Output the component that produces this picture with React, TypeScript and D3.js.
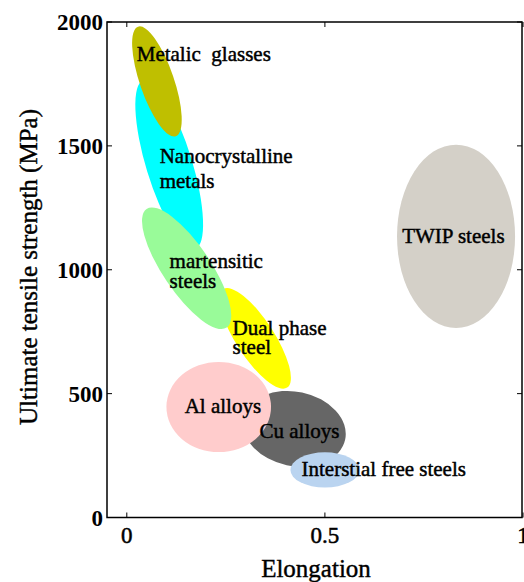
import React from "react";
import * as d3 from "d3";

const W = 524;
const H = 582;

// Material families: centre (elongation, MPa), semi-axes (elongation, MPa), tilt (deg)
const names = ["Nanocrystalline metals", "Metalic glasses", "Dual phase steel", "martensitic steels", "Cu alloys", "Al alloys", "Interstial free steels", "TWIP steels"];
const centerElong = [0.107, 0.076, 0.324, 0.151, 0.423, 0.232, 0.5, 0.831];
const centerUTS = [1424, 1760, 723, 1006, 358, 446, 192, 1135];
const halfElong = [0.058, 0.043, 0.048, 0.06, 0.131, 0.132, 0.087, 0.149];
const halfUTS = [356, 234, 237, 289, 150, 182, 71, 370];
const tilts = [-17, -19, -33, -34, 12, 0, 0, 0];
const colors = ["#00FFFF", "#BFBF00", "#FFFF00", "#99FB99", "#666666", "#FFCCCC", "#BAD4F0", "#D4D0C8"];

// Labels
const labelLines = [["Metalic  glasses"], ["Nanocrystalline", "metals"], ["martensitic", "steels"], ["Dual phase", "steel"], ["Al alloys"], ["Cu alloys"], ["Interstial free steels"], ["TWIP steels"]];
const labelElong = [0.025, 0.083, 0.108, 0.267, 0.146, 0.335, 0.441, 0.695];
const labelUTS = [1844, 1432, 1008, 737, 422, 321, 168, 1109];
const labelGap = [0, 25, 20, 19, 0, 0, 0, 0];

const xTicks = [0, 0.5, 1];
const xTickLabels = ["0", "0.5", "1"];
const yTicks = [0, 500, 1000, 1500, 2000];
const yTickLabels = ["0", "500", "1000", "1500", "2000"];

const FONT = "'Liberation Serif', 'Times New Roman', serif";

export default function App() {
  const left = 107, right = 522, top = 22, bottom = 517.5;
  const x = d3.scaleLinear().domain([-0.05, 1.0]).range([left, right + 1]);
  const y = d3.scaleLinear().domain([0, 2000]).range([bottom, top]);
  const tl = 5;
  const ts = { fontFamily: FONT, whiteSpace: "pre" as const };

  return (
    <svg width={W} height={H} style={{ position: "absolute", left: 0, top: 0, background: "#fff", fontFamily: FONT }}>
      <rect width={W} height={H} fill="#fff" />
      {names.map((n, i) => {
        const cx = x(centerElong[i]);
        const cy = y(centerUTS[i]);
        const rx = x(centerElong[i] + halfElong[i]) - cx;
        const ry = cy - y(centerUTS[i] + halfUTS[i]);
        return (
          <ellipse key={n} cx={cx} cy={cy} rx={rx} ry={ry} fill={colors[i]}
            transform={`rotate(${tilts[i]} ${cx} ${cy})`} />
        );
      })}
      {labelLines.map((lines, i) => (
        <text key={i} x={x(labelElong[i])} y={y(labelUTS[i])} fontSize={21} fill="#000" stroke="#000" strokeWidth={0.45} style={ts}>
          {lines.map((l, j) => (
            <tspan key={j} x={x(labelElong[i])} dy={j === 0 ? 0 : labelGap[i]}>{l}</tspan>
          ))}
        </text>
      ))}
      {/* axes box */}
      <rect x={left} y={top} width={right - left} height={bottom - top} fill="none" stroke="#000" strokeWidth={1.5} />
      {xTicks.map((t) => (
        <g key={"x" + t}>
          <line x1={x(t)} x2={x(t)} y1={bottom} y2={bottom - tl} stroke="#000" strokeWidth={1} />
          <line x1={x(t)} x2={x(t)} y1={top} y2={top + tl} stroke="#000" strokeWidth={1} />
        </g>
      ))}
      {yTicks.map((t) => (
        <g key={"y" + t}>
          <line x1={left} x2={left + tl} y1={y(t)} y2={y(t)} stroke="#000" strokeWidth={1} />
          <line x1={right} x2={right - tl} y1={y(t)} y2={y(t)} stroke="#000" strokeWidth={1} />
        </g>
      ))}
      {xTicks.map((t, i) => (
        <text key={"xl" + t} x={x(t)} y={543} textAnchor="middle" fontSize={23} fill="#000" stroke="#000" strokeWidth={0.5} style={ts}>{xTickLabels[i]}</text>
      ))}
      {yTicks.map((t, i) => (
        <text key={"yl" + t} x={103} y={y(t) + 8} textAnchor="end" fontSize={23} fontWeight="bold" fill="#000" style={ts}>{yTickLabels[i]}</text>
      ))}
      <text x={316} y={577} textAnchor="middle" fontSize={25} fill="#000" stroke="#000" strokeWidth={0.4} style={ts}>Elongation</text>
      <text transform={`translate(37, 267) rotate(-90)`} textAnchor="middle" fontSize={25} fill="#000" stroke="#000" strokeWidth={0.4} style={ts}>Ultimate tensile strength (MPa)</text>
    </svg>
  );
}
